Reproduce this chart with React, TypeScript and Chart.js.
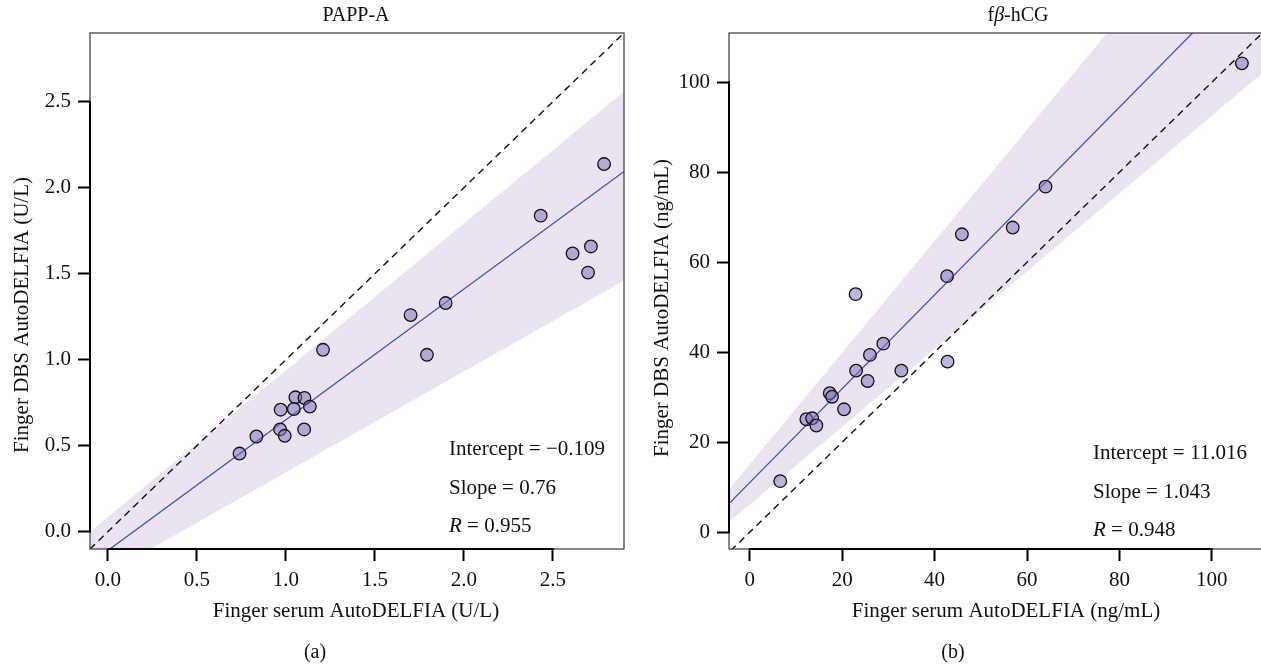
import React, { useEffect, useRef } from "react";
import { Chart, registerables } from "chart.js";

Chart.register(...registerables);

const FONT = "'Liberation Serif', 'Times New Roman', serif";

// ---------- Panel (a): PAPP-A ----------
const papXTicks = [0, 0.5, 1.0, 1.5, 2.0, 2.5];
const papYTicks = [0, 0.5, 1.0, 1.5, 2.0, 2.5];
const papX = [0.74, 0.835, 0.968, 0.971, 0.994, 1.054, 1.045, 1.105, 1.135, 1.103, 1.209, 1.701, 1.793, 1.898, 2.432, 2.611, 2.714, 2.698, 2.788];
const papY = [0.455, 0.554, 0.595, 0.71, 0.558, 0.782, 0.714, 0.778, 0.728, 0.595, 1.058, 1.26, 1.029, 1.33, 1.838, 1.618, 1.659, 1.507, 2.138];
const papIntercept = -0.109;
const papSlope = 0.76;
const papR = 0.955;
const papRange = [-0.1, 2.9];
const papBandX = [-0.1, 2.9];
const papBandUpper = [0.0, 2.56];
const papBandLower = [-0.3, 1.46];

// ---------- Panel (b): fβ-hCG ----------
const hcgXTicks = [0, 20, 40, 60, 80, 100];
const hcgYTicks = [0, 20, 40, 60, 80, 100];
const hcgX = [6.59, 12.24, 13.5, 14.4, 17.3, 17.8, 20.4, 23.0, 25.5, 26.0, 28.9, 32.8, 42.8, 22.9, 42.7, 45.9, 56.9, 64.0, 106.5];
const hcgY = [11.33, 25.1, 25.3, 23.7, 30.9, 30.1, 27.3, 35.9, 33.6, 39.4, 41.9, 35.9, 37.9, 52.9, 56.9, 66.2, 67.7, 76.8, 104.2];
const hcgIntercept = 11.016;
const hcgSlope = 1.043;
const hcgR = 0.948;
const hcgXRange = [-4.5, 111.5];
const hcgYRange = [-3.75, 110.95];
const hcgBandX = [-5, 115];
const hcgBandUpper = [8.9, 157.7];
const hcgBandLower = [1.8, 105.5];

type Seg = { t: string; italic?: boolean };

function drawRich(ctx: CanvasRenderingContext2D, segs: Seg[], x: number, y: number, align: "left" | "center", size: number) {
  const fonts = segs.map((s) => `${s.italic ? "italic " : ""}${size}px ${FONT}`);
  const widths = segs.map((s, i) => {
    ctx.font = fonts[i];
    return ctx.measureText(s.t).width;
  });
  const total = widths.reduce((a, b) => a + b, 0);
  let cx = align === "center" ? x - total / 2 : x;
  ctx.textAlign = "left";
  ctx.textBaseline = "alphabetic";
  segs.forEach((s, i) => {
    ctx.font = fonts[i];
    ctx.fillText(s.t, cx, y);
    cx += widths[i];
  });
}

const fmtSigned = (v: number, d: number) => (v < 0 ? "\u2212" + Math.abs(v).toFixed(d) : v.toFixed(d));

type PanelCfg = {
  left: number;
  xs: number[];
  ys: number[];
  xTicks: number[];
  yTicks: number[];
  tickFmt: (v: number) => string;
  xRange: number[];
  yRange: number[];
  intercept: number;
  slope: number;
  lineX: number[];
  idX: number[];
  bandX: number[];
  bandUpper: number[];
  bandLower: number[];
  title: Seg[];
  titleX: number;
  xTitle: string;
  xTitleX: number;
  yTitle: string;
  yTitleY: number;
  label: string;
  labelX: number;
  stats: Seg[][];
  statsX: number;
  statsY: number;
  padRight: number;
  yAxisWidth: number;
};

const panels: PanelCfg[] = [
  {
    left: 0,
    xs: papX,
    ys: papY,
    xTicks: papXTicks,
    yTicks: papYTicks,
    tickFmt: (v) => v.toFixed(1),
    xRange: papRange,
    yRange: papRange,
    intercept: papIntercept,
    slope: papSlope,
    lineX: [-0.2, 3.0],
    idX: papRange,
    bandX: papBandX,
    bandUpper: papBandUpper,
    bandLower: papBandLower,
    title: [{ t: "PAPP-A" }],
    titleX: 356,
    xTitle: "Finger serum AutoDELFIA (U/L)",
    xTitleX: 356,
    yTitle: "Finger DBS AutoDELFIA (U/L)",
    yTitleY: 315,
    label: "(a)",
    labelX: 315,
    stats: [
      [{ t: "Intercept = " + fmtSigned(papIntercept, 3) }],
      [{ t: "Slope = " + papSlope.toFixed(2) }],
      [{ t: "R", italic: true }, { t: " = " + papR.toFixed(3) }],
    ],
    statsX: 449,
    statsY: 455,
    padRight: 16,
    yAxisWidth: 90,
  },
  {
    left: 640,
    xs: hcgX,
    ys: hcgY,
    xTicks: hcgXTicks,
    yTicks: hcgYTicks,
    tickFmt: (v) => String(v),
    xRange: hcgXRange,
    yRange: hcgYRange,
    intercept: hcgIntercept,
    slope: hcgSlope,
    lineX: [-6, 120],
    idX: [-6, 120],
    bandX: hcgBandX,
    bandUpper: hcgBandUpper,
    bandLower: hcgBandLower,
    title: [{ t: "f" }, { t: "\u03B2", italic: true }, { t: "-hCG" }],
    titleX: 378,
    xTitle: "Finger serum AutoDELFIA (ng/mL)",
    xTitleX: 366,
    yTitle: "Finger DBS AutoDELFIA (ng/mL)",
    yTitleY: 308,
    label: "(b)",
    labelX: 313,
    stats: [
      [{ t: "Intercept = " + fmtSigned(hcgIntercept, 3) }],
      [{ t: "Slope = " + hcgSlope.toFixed(3) }],
      [{ t: "R", italic: true }, { t: " = " + hcgR.toFixed(3) }],
    ],
    statsX: 453,
    statsY: 459,
    padRight: 15,
    yAxisWidth: 89,
  },
];

function Panel({ cfg }: { cfg: PanelCfg }) {
  const ref = useRef<HTMLCanvasElement>(null);
  useEffect(() => {
    const points = cfg.xs.map((x, i) => ({ x, y: cfg.ys[i] }));
    const reg = cfg.lineX.map((x) => ({ x, y: cfg.intercept + cfg.slope * x }));
    const ident = cfg.idX.map((x) => ({ x, y: x }));
    const upper = cfg.bandX.map((x, i) => ({ x, y: cfg.bandUpper[i] }));
    const lower = cfg.bandX.map((x, i) => ({ x, y: cfg.bandLower[i] }));

    const decor = {
      id: "decor",
      afterDraw(chart: any) {
        const ctx: CanvasRenderingContext2D = chart.ctx;
        const ca = chart.chartArea;
        const xs = chart.scales.x;
        const ys = chart.scales.y;
        ctx.save();
        ctx.strokeStyle = "#3a3a3a";
        ctx.lineWidth = 1.2;
        ctx.strokeRect(ca.left, ca.top, ca.right - ca.left, ca.bottom - ca.top);
        ctx.strokeStyle = "#000";
        ctx.lineWidth = 2;
        ctx.beginPath();
        ctx.moveTo(ca.left, ys.getPixelForValue(cfg.yTicks[0]) + 1);
        ctx.lineTo(ca.left, ys.getPixelForValue(cfg.yTicks[cfg.yTicks.length - 1]) - 1);
        ctx.moveTo(xs.getPixelForValue(cfg.xTicks[0]) - 1, ca.bottom);
        ctx.lineTo(xs.getPixelForValue(cfg.xTicks[cfg.xTicks.length - 1]) + 1, ca.bottom);
        ctx.stroke();

        ctx.fillStyle = "#111";
        drawRich(ctx, cfg.title, cfg.titleX, 21, "center", 20);
        drawRich(ctx, [{ t: cfg.xTitle }], cfg.xTitleX, 617, "center", 21);
        drawRich(ctx, [{ t: cfg.label }], cfg.labelX, 658, "center", 20);
        cfg.stats.forEach((segs, i) => drawRich(ctx, segs, cfg.statsX, cfg.statsY + i * 38.5, "left", 21));

        ctx.save();
        ctx.translate(28, cfg.yTitleY);
        ctx.rotate(-Math.PI / 2);
        drawRich(ctx, [{ t: cfg.yTitle }], 0, 0, "center", 21);
        ctx.restore();
        ctx.restore();
      },
    };

    const axisCommon = (ticks: number[]) => ({
      type: "linear" as const,
      afterBuildTicks: (s: any) => {
        s.ticks = ticks.map((v) => ({ value: v }));
      },
      grid: {
        display: true,
        drawOnChartArea: false,
        drawTicks: true,
        tickLength: 12,
        tickWidth: 2,
        tickColor: "#000",
      },
      border: { display: false },
      ticks: {
        font: { family: FONT, size: 21 },
        color: "#111",
        maxRotation: 0,
        autoSkip: false,
        callback: (v: any) => cfg.tickFmt(Number(v)),
      },
    });

    const xAxis: any = axisCommon(cfg.xTicks);
    xAxis.min = cfg.xRange[0];
    xAxis.max = cfg.xRange[1];
    xAxis.ticks.padding = 7;
    xAxis.afterFit = (s: any) => {
      s.height = 116;
    };
    const yAxis: any = axisCommon(cfg.yTicks);
    yAxis.min = cfg.yRange[0];
    yAxis.max = cfg.yRange[1];
    yAxis.ticks.padding = 7;
    yAxis.afterFit = (s: any) => {
      s.width = cfg.yAxisWidth;
    };

    const chart = new Chart(ref.current!, {
      type: "line",
      data: {
        datasets: [
          {
            data: points,
            showLine: false,
            pointRadius: 6.3,
            pointBorderWidth: 1.3,
            pointBorderColor: "#111",
            pointBackgroundColor: "rgba(128,108,184,0.5)",
            order: 0,
          },
          {
            data: reg,
            borderColor: "#3b55ad",
            borderWidth: 1.3,
            pointRadius: 0,
            clip: 0,
            order: 1,
          },
          {
            data: ident,
            borderColor: "#111",
            borderWidth: 1.4,
            borderDash: [7, 5],
            pointRadius: 0,
            clip: 0,
            order: 2,
          },
          {
            data: upper,
            borderWidth: 0,
            borderColor: "rgba(0,0,0,0)",
            backgroundColor: "#ebe3f0",
            fill: "+1",
            pointRadius: 0,
            clip: 0,
            order: 3,
          },
          {
            data: lower,
            borderWidth: 0,
            borderColor: "rgba(0,0,0,0)",
            pointRadius: 0,
            fill: false,
            clip: 0,
            order: 4,
          },
        ] as any,
      },
      options: {
        responsive: false,
        animation: false,
        events: [],
        devicePixelRatio: 1,
        layout: { padding: { left: 0, right: cfg.padRight, top: 33, bottom: 0 } },
        plugins: { legend: { display: false }, tooltip: { enabled: false }, title: { display: false } },
        scales: { x: xAxis, y: yAxis },
      } as any,
      plugins: [decor],
    });
    return () => chart.destroy();
  }, []);
  return (
    <canvas
      ref={ref}
      width={640}
      height={665}
      style={{ position: "absolute", left: cfg.left, top: 0, width: 640, height: 665, display: "block" }}
    />
  );
}

export default function App() {
  return (
    <div
      style={{
        position: "absolute",
        left: 0,
        top: 0,
        width: 1261,
        height: 665,
        overflow: "hidden",
        background: "#fff",
      }}
    >
      {panels.map((p, i) => (
        <Panel key={i} cfg={p} />
      ))}
    </div>
  );
}
